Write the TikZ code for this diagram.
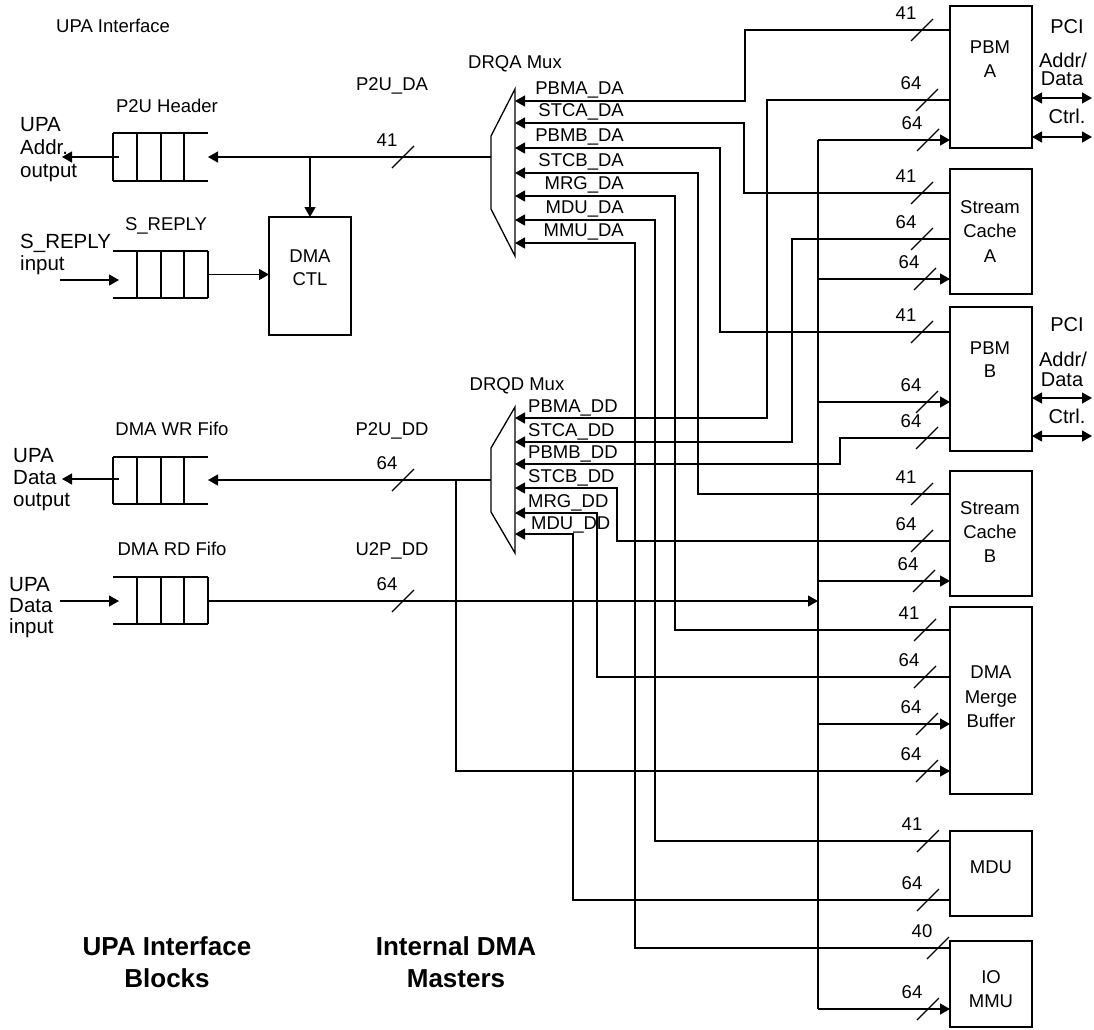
\documentclass[tikz,border=0pt]{standalone}
\usepackage{fontspec}
\setmainfont{Liberation Sans}
\usetikzlibrary{arrows.meta,calc}
\tikzset{
  wire/.style={line width=1.3pt},
  arr/.style={line width=1.3pt,-{Triangle[length=10pt,width=11pt]}},
  darr/.style={line width=1.3pt,{Triangle[length=10pt,width=11pt]}-{Triangle[length=10pt,width=11pt]}},
  blk/.style={draw,line width=1.3pt,rectangle,inner sep=0pt,outer sep=0pt,anchor=north west,minimum width=82pt},
  fifo/.style={rectangle,inner sep=0pt,outer sep=0pt,anchor=north west,minimum width=95pt,minimum height=48pt},
  sm/.style={font=\fontsize{18.5}{22}\selectfont,inner sep=0pt},
  big/.style={font=\fontsize{20.5}{23}\selectfont,inner sep=0pt,anchor=base west},
  pci/.style={font=\fontsize{20}{22}\selectfont,inner sep=0pt,anchor=base},
  ttl/.style={font=\fontsize{26}{30}\selectfont\bfseries,inner sep=0pt,anchor=base},
}
\newcommand\fifoOpenR[1]{%
  \draw[wire] (#1.north west) -- (#1.north east) (#1.south west) -- (#1.south east);
  \foreach \k in {0,24,48,71} \draw[wire] ($(#1.north west)+(\k,0)$) -- ($(#1.south west)+(\k,0)$);}
\newcommand\fifoOpenL[1]{%
  \draw[wire] (#1.north west) -- (#1.north east) (#1.south west) -- (#1.south east);
  \foreach \k in {24,48,71,95} \draw[wire] ($(#1.north west)+(\k,0)$) -- ($(#1.south west)+(\k,0)$);}
\newcommand\bwid[4]{%
  \draw[wire] (#2-11,#3+11) -- (#2+11,#3-11);
  \node[sm,anchor=base] (#1) at (#2-16,#3-11) {#4};}
\begin{document}
\begin{tikzpicture}[x=1pt,y=-1pt]
\useasboundingbox (0,0) rectangle (1094,1029);

% ---------- left side ----------
\node[sm,anchor=base west] (title) at (56,32) {UPA Interface};

\node[fifo] (p2u) at (113,133) {};
\node[fifo,minimum height=47pt] (srep) at (113,251) {};
\node[fifo,minimum height=47pt] (wr) at (113,457) {};
\node[fifo,minimum height=47pt] (rd) at (113,577) {};
\fifoOpenR{p2u}
\fifoOpenL{srep}
\fifoOpenR{wr}
\fifoOpenL{rd}

\node[sm,anchor=base] (p2uL) at (167,112) {P2U Header};
\node[sm,anchor=base] (srepL) at (166,230) {S\_REPLY};
\node[sm,anchor=base] (wrL) at (172,435) {DMA WR Fifo};
\node[sm,anchor=base] (rdL) at (172,555) {DMA RD Fifo};

\node[big] (ao1) at (20,131) {UPA};
\node[big] (ao2) at (20,154) {Addr.};
\node[big] (ao3) at (20,177) {output};
\node[big] (si1) at (20,248) {S\_REPLY};
\node[big] (si2) at (20,270) {input};
\node[big] (do1) at (13,462) {UPA};
\node[big] (do2) at (13,484) {Data};
\node[big] (do3) at (13,506) {output};
\node[big] (di1) at (9,591) {UPA};
\node[big] (di2) at (9,612) {Data};
\node[big] (di3) at (9,633) {input};

\node[blk,minimum height=118pt] (ctl) at (269,217) {};
\node[sm,anchor=base] (ctlT1) at (ctl.center |- 0,262) {DMA};
\node[sm,anchor=base] (ctlT2) at (ctl.center |- 0,285) {CTL};

\coordinate (addrout) at (62,157);
\coordinate (srin) at (60,280);
\coordinate (dout) at (62,479);
\coordinate (din) at (60,601);

% ---------- muxes ----------
\draw[wire] (515,89) -- (491,136) -- (491,209) -- (515,256) -- cycle;
\draw[wire] (515,407) -- (491,448) -- (491,512) -- (515,553) -- cycle;
\coordinate (qaout) at (491,157);
\coordinate (qdout) at (491,480);
\foreach \i/\y in {0/101,1/123,2/148,3/173,4/196,5/220,6/243} \coordinate (qa\i) at (515,\y);
\foreach \i/\y in {0/418,1/442,2/464,3/488,4/513,5/534} \coordinate (qd\i) at (515,\y);

\node[sm,anchor=base] (muxA) at (515,68) {DRQA Mux};
\node[sm,anchor=base] (muxD) at (517,390) {DRQD Mux};
\node[sm,anchor=base] (p2uda) at (392,90) {P2U\_DA};
\node[sm,anchor=base] (p2udd) at (392,435) {P2U\_DD};
\node[sm,anchor=base] (u2pdd) at (392,555) {U2P\_DD};

\foreach \i/\t in {0/PBMA\_DA,1/STCA\_DA,2/PBMB\_DA,3/STCB\_DA,4/MRG\_DA,5/MDU\_DA,6/MMU\_DA}
  \node[sm,anchor=base east] (la\i) at ([xshift=109pt,yshift=7pt]qa\i) {\t};
\foreach \i/\t in {0/PBMA\_DD,1/STCA\_DD,2/PBMB\_DD,3/STCB\_DD,4/MRG\_DD}
  \node[sm,anchor=base west] (ld\i) at ([xshift=13pt,yshift=6pt]qd\i) {\t};
\node[sm,anchor=base west] (ld5) at ([xshift=16pt,yshift=5pt]qd5) {MDU\_DD};

% ---------- right blocks ----------
\node[blk,minimum height=142pt] (pbma) at (950,6) {};
\node[blk,minimum height=125pt] (sca) at (950,169) {};
\node[blk,minimum height=144pt] (pbmb) at (950,307) {};
\node[blk,minimum height=125pt] (scb) at (950,471) {};
\node[blk,minimum height=187pt] (mrg) at (950,607) {};
\node[blk,minimum height=85pt] (mdu) at (950,831) {};
\node[blk,minimum height=86pt] (iom) at (950,941) {};

\node[sm,anchor=base] (tA1) at (990,53) {PBM};
\node[sm,anchor=base] (tA2) at (990,77) {A};
\node[sm,anchor=base] (tB1) at (990,213) {Stream};
\node[sm,anchor=base] (tB2) at (990,237) {Cache};
\node[sm,anchor=base] (tB3) at (990,262) {A};
\node[sm,anchor=base] (tC1) at (990,354) {PBM};
\node[sm,anchor=base] (tC2) at (990,377) {B};
\node[sm,anchor=base] (tD1) at (990,514) {Stream};
\node[sm,anchor=base] (tD2) at (990,538) {Cache};
\node[sm,anchor=base] (tD3) at (990,562) {B};
\node[sm,anchor=base] (tE1) at (991,678) {DMA};
\node[sm,anchor=base] (tE2) at (991,703) {Merge};
\node[sm,anchor=base] (tE3) at (991,727) {Buffer};
\node[sm,anchor=base] (tF1) at (991,873) {MDU};
\node[sm,anchor=base] (tG1) at (991,983) {IO};
\node[sm,anchor=base] (tG2) at (991,1007) {MMU};

% PCI
\node[pci] (pciA1) at (1067,33) {PCI};
\node[pci] (pciA2) at (1063,67) {Addr/};
\node[pci] (pciA3) at (1062,85) {Data};
\node[pci] (pciA4) at (1067,123) {Ctrl.};
\node[pci] (pciB1) at (1067,331) {PCI};
\node[pci] (pciB2) at (1063,366) {Addr/};
\node[pci] (pciB3) at (1062,386) {Data};
\node[pci] (pciB4) at (1067,423) {Ctrl.};
\coordinate (pa1) at (1092,98);
\coordinate (pa2) at (1092,137);
\coordinate (pb1) at (1092,398);
\coordinate (pb2) at (1092,436);
\draw[darr] (pbma.east |- pa1) -- (pa1);
\draw[darr] (pbma.east |- pa2) -- (pa2);
\draw[darr] (pbmb.east |- pb1) -- (pb1);
\draw[darr] (pbmb.east |- pb2) -- (pb2);

% ---------- connectors ----------
\draw[arr] (qaout) -- (p2u.east |- qaout);
\coordinate (j1) at (ctl.north |- qaout);
\draw[arr] (j1) -- (ctl.north);
\draw[arr] ($(p2u.west)+(6,0)$) -- (addrout);
\draw[arr] (srin) -- (srep.west |- srin) -- ++(6,0);
\draw[arr] (srep.east) -- (ctl.west |- srep.east);

\draw[arr] (qdout) -- (wr.east |- qdout);
\coordinate (j2) at ([xshift=-35pt]qdout);
\draw[arr] (j2) |- (mrg.west |- 0,771);
\draw[arr] ($(wr.west |- dout)+(6,0)$) -- (dout);
\draw[arr] (din) -- ($(rd.west |- din)+(6,0)$);

\coordinate (bustop) at (818,140);
\coordinate (busbot) at (818,1009);
\draw[arr] (rd.east |- din) -- (bustop |- din);
\draw[wire] (bustop) -- (busbot);
\foreach \b/\y in {pbma/140,sca/279,pbmb/402,scb/581,mrg/724,iom/1009}
  \draw[arr] (bustop |- 0,\y) -- (\b.west |- 0,\y);

% DA inputs
\draw[arr] (pbma.west |- 0,30) -| ([xshift=230pt]qa0) -- (qa0);
\draw[arr] (sca.west |- 0,193) -| ([xshift=229pt]qa1) -- (qa1);
\draw[arr] (pbmb.west |- 0,332) -| ([xshift=205pt]qa2) -- (qa2);
\draw[arr] (scb.west |- 0,494) -| ([xshift=183pt]qa3) -- (qa3);
\draw[arr] (mrg.west |- 0,630) -| ([xshift=160pt]qa4) -- (qa4);
\draw[arr] (mdu.west |- 0,841) -| ([xshift=140pt]qa5) -- (qa5);
\draw[arr] (iom.west |- 0,948) -| ([xshift=120pt]qa6) -- (qa6);
% DD inputs
\draw[arr] (pbma.west |- 0,100) -| ([xshift=252pt]qd0) -- (qd0);
\draw[arr] (sca.west |- 0,239) -| ([xshift=277pt]qd1) -- (qd1);
\draw[arr] (pbmb.west |- 0,438) -| ([xshift=325pt]qd2) -- (qd2);
\draw[arr] (scb.west |- 0,541) -| ([xshift=102pt]qd3) -- (qd3);
\draw[arr] (mrg.west |- 0,677) -| ([xshift=82pt]qd4) -- (qd4);
\draw[arr] (mdu.west |- 0,900) -| ([xshift=58pt]qd5) -- (qd5);

% ---------- bus widths ----------
\bwid{w1}{403}{157}{41}
\bwid{w2}{403}{480}{64}
\bwid{w3}{403}{601}{64}
\bwid{w4}{922}{30}{41}
\bwid{w5}{927}{100}{64}
\bwid{w6}{928}{140}{64}
\bwid{w7}{922}{193}{41}
\bwid{w8}{922}{239}{64}
\bwid{w9}{925}{279}{64}
\bwid{w10}{922}{332}{41}
\bwid{w11}{927}{402}{64}
\bwid{w12}{927}{438}{64}
\bwid{w13}{922}{494}{41}
\bwid{w14}{922}{541}{64}
\bwid{w15}{924}{581}{64}
\bwid{w16}{925}{630}{41}
\bwid{w17}{925}{677}{64}
\bwid{w18}{927}{724}{64}
\bwid{w19}{927}{771}{64}
\bwid{w20}{928}{841}{41}
\bwid{w21}{928}{900}{64}
\bwid{w22}{938}{948}{40}
\bwid{w23}{928}{1009}{64}

% ---------- titles ----------
\node[ttl] (bt1) at (167,955) {UPA Interface};
\node[ttl] (bt2) at (167,987) {Blocks};
\node[ttl] (bt3) at (456,955) {Internal DMA};
\node[ttl] (bt4) at (456,987) {Masters};
\end{tikzpicture}
\end{document}
